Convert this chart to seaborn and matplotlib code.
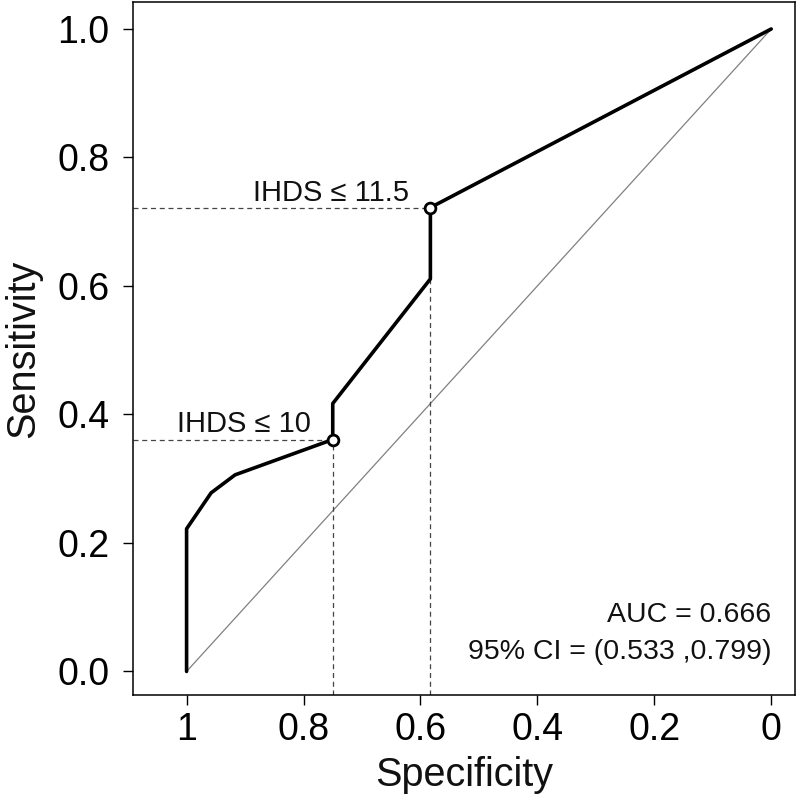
import matplotlib
matplotlib.use("Agg")
import matplotlib.pyplot as plt
import pandas as pd
import seaborn as sns

# ROC curve points (specificity, sensitivity)
specificity = [1.0, 1.0, 0.958, 0.917, 0.75, 0.75, 0.583, 0.583, 0.0]
sensitivity = [0.0, 0.222, 0.278, 0.306, 0.361, 0.417, 0.611, 0.722, 1.0]

# highlighted cut-offs
cut_labels = ["IHDS \u2264 10", "IHDS \u2264 11.5"]
cut_spec = [0.75, 0.583]
cut_sens = [0.361, 0.722]

auc_lines = ["AUC = 0.666", "95% CI = (0.533 ,0.799)"]
x_ticks = [1, 0.8, 0.6, 0.4, 0.2, 0]
x_ticklabels = ["1", "0.8", "0.6", "0.4", "0.2", "0"]
y_ticks = [0.0, 0.2, 0.4, 0.6, 0.8, 1.0]
y_ticklabels = ["0.0", "0.2", "0.4", "0.6", "0.8", "1.0"]

sns.set_theme(style="white")
plt.rcParams["font.family"] = ["Liberation Sans", "DejaVu Sans"]

roc = pd.DataFrame({"Specificity": specificity, "Sensitivity": sensitivity})

fig = plt.figure(figsize=(8, 8), dpi=100)
ax = fig.add_axes([0.166, 0.131, 0.828, 0.8665])
xlim = (1.092, -0.041)
ylim = (-0.037, 1.042)

# chance line
ax.plot([1, 0], [0, 1], color="#808080", lw=0.9, zorder=1)

# dashed guides to the cut-off points
for s, t in zip(cut_spec, cut_sens):
    ax.plot([xlim[0], s], [t, t], ls=(0, (4, 3)), color="#444444", lw=0.9, zorder=1)
    ax.plot([s, s], [ylim[0], t], ls=(0, (4, 3)), color="#444444", lw=0.9, zorder=1)

sns.lineplot(data=roc, x="Specificity", y="Sensitivity", sort=False,
             estimator=None, color="black", lw=2.6, ax=ax, zorder=2)

sns.scatterplot(x=cut_spec, y=cut_sens, s=60, color="white", edgecolor="black",
                linewidth=2, ax=ax, zorder=3)

for lab, s, t in zip(cut_labels, cut_spec, cut_sens):
    ax.text(s + 0.037, t + 0.011, lab, ha="right", va="baseline",
            fontsize=21, color="#111111")

ax.text(0.0, 0.077, auc_lines[0], ha="right", va="baseline", fontsize=20.5, color="#111111")
ax.text(0.0, 0.020, auc_lines[1], ha="right", va="baseline", fontsize=20.5, color="#111111")

ax.set_xlim(*xlim)
ax.set_ylim(*ylim)
ax.set_xticks(x_ticks)
ax.set_xticklabels(x_ticklabels)
ax.set_yticks(y_ticks)
ax.set_yticklabels(y_ticklabels)
ax.tick_params(axis="both", direction="out", length=7, width=1, color="black",
               labelsize=27, labelcolor="black", left=True, bottom=True)
ax.tick_params(axis="y", pad=10)
ax.tick_params(axis="x", pad=5)
ax.set_xlabel("Specificity", fontsize=28.5, color="#111111", labelpad=6)
ax.set_ylabel("Sensitivity", fontsize=28.5, color="#111111", labelpad=11)
for sp in ax.spines.values():
    sp.set_color("black")
    sp.set_linewidth(1.1)

fig.savefig("out.png", dpi=100)
